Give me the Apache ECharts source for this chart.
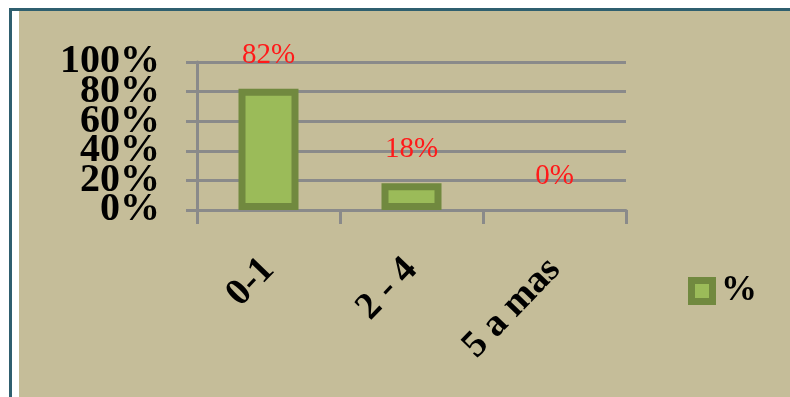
<!DOCTYPE html>
<html>
<head>
<meta charset="utf-8">
<script src="https://cdn.jsdelivr.net/npm/echarts@6/dist/echarts.min.js"></script>
<style>
  html, body { margin: 0; padding: 0; background: #ffffff; }
  #chart { width: 790px; height: 397px; }
</style>
</head>
<body>
<div id="chart"></div>
<script>
// Age groups (years) and the share of respondents in each
const categories = ['0-1', '2 - 4', '5 a mas'];
const percentValues = [82, 18, 0];
const seriesName = '%';
const yTicks = [0, 20, 40, 60, 80, 100];

const panelColor = '#C5BD99';
const frameColor = '#2F5F6F';
const gridColor = '#8A8A8A';
const barFill = '#9BBB59';
const barEdge = '#71893F';

// Legend swatch: light green square with a thick dark green edge
const swatchSvg = '<svg xmlns="http://www.w3.org/2000/svg" width="28" height="28">' +
  '<rect x="0" y="0" width="28" height="28" fill="' + barEdge + '"/>' +
  '<rect x="7" y="7" width="14" height="14" fill="' + barFill + '"/></svg>';
const swatchIcon = 'image://data:image/svg+xml;charset=utf-8,' + encodeURIComponent(swatchSvg);

// Empty bars get no edge, so a zero share leaves only its label
const barData = percentValues.map(v => ({
  value: v,
  itemStyle: v === 0 ? { borderWidth: 0 } : undefined
}));

// The tall percent labels sit closer together than their own height, so the
// ticks are split over two stacked left axes (alternate values on each) to keep
// every label visible.
const evenTicks = yTicks.filter((_, i) => i % 2 === 0);
const oddTicks = yTicks.filter((_, i) => i % 2 === 1);

function percentAxis(values, withLine) {
  return {
    type: 'value',
    position: 'left',
    min: yTicks[0],
    max: yTicks[yTicks.length - 1],
    interval: yTicks[1] - yTicks[0],
    axisLine: { show: withLine, lineStyle: { color: gridColor, width: 3 } },
    axisTick: { show: true, inside: false, length: 11, customValues: values, lineStyle: { color: gridColor, width: 3 } },
    axisLabel: {
      margin: 37,
      customValues: values,
      showMinLabel: true,
      showMaxLabel: true,
      hideOverlap: false,
      formatter: '{value}%',
      fontFamily: 'Liberation Serif',
      fontWeight: 'bold',
      fontSize: 40,
      lineHeight: 30,
      color: '#000000'
    },
    splitLine: { show: true, lineStyle: { color: gridColor, width: 3 } }
  };
}

const chart = echarts.init(document.getElementById('chart'), null, { renderer: 'canvas' });

chart.setOption({
  backgroundColor: '#ffffff',
  animation: false,
  graphic: [
    { type: 'rect', z: -10, silent: true, shape: { x: 9, y: 8, width: 781, height: 389 }, style: { fill: frameColor } },
    { type: 'rect', z: -9, silent: true, shape: { x: 12, y: 11, width: 778, height: 386 }, style: { fill: '#ffffff' } },
    { type: 'rect', z: -8, silent: true, shape: { x: 19, y: 11, width: 771, height: 386 }, style: { fill: panelColor } }
  ],
  grid: { left: 197, right: 164, top: 62, bottom: 187, containLabel: false },
  legend: {
    left: 683,
    top: 268,
    itemWidth: 28,
    itemHeight: 28,
    itemGap: 10,
    icon: swatchIcon,
    data: [seriesName],
    textStyle: { fontFamily: 'Liberation Serif', fontWeight: 'bold', fontSize: 36, color: '#000000', padding: [2, 0, 0, 0] }
  },
  xAxis: {
    type: 'category',
    data: categories,
    boundaryGap: true,
    axisLine: { show: true, lineStyle: { color: gridColor, width: 3 } },
    axisTick: { show: true, length: 14, lineStyle: { color: gridColor, width: 3 } },
    axisLabel: {
      rotate: 46,
      margin: 54,
      interval: 0,
      fontFamily: 'Liberation Serif',
      fontWeight: 'bold',
      fontSize: 38,
      color: '#000000'
    },
    splitLine: { show: false }
  },
  yAxis: [percentAxis(evenTicks, true), percentAxis(oddTicks, false)],
  series: [{
    name: seriesName,
    type: 'bar',
    yAxisIndex: 0,
    data: barData,
    barWidth: 60,
    itemStyle: { color: barFill, borderColor: barEdge, borderWidth: 7 },
    label: {
      show: true,
      position: 'top',
      distance: 19,
      formatter: '{c}%',
      fontFamily: 'Liberation Serif',
      fontSize: 29,
      color: '#FF1A1A'
    }
  }]
});
</script>
</body>
</html>
